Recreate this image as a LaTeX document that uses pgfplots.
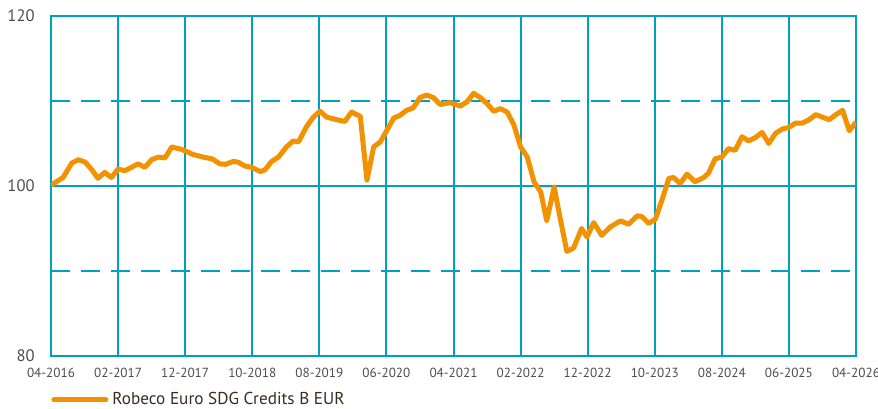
\documentclass[border=0pt]{standalone}
\usepackage{pgfplots}
\pgfplotsset{compat=1.18}
\usepackage{fontspec}
\setmainfont{PT Sans}
\definecolor{teal}{HTML}{00A0C0}
\definecolor{orng}{HTML}{F39200}
\definecolor{tickgray}{HTML}{4D4D4D}
\definecolor{legtext}{HTML}{3A2C1E}
\begin{document}
\begin{tikzpicture}
\useasboundingbox (-25.5pt,-26pt) rectangle (413.5pt,178pt);
\begin{axis}[
  at={(0,0)}, anchor=south west,
  scale only axis, width=402.5pt, height=170pt,
  xmin=0, xmax=120, ymin=80, ymax=120,
  xtick={0,10,...,120},
  xticklabels={04-2016,02-2017,12-2017,10-2018,08-2019,06-2020,04-2021,02-2022,12-2022,10-2023,08-2024,06-2025,04-2026},
  ytick={80,100,120},
  extra y ticks={90,110},
  extra y tick labels={},
  extra y tick style={grid=major, major grid style={teal, line width=1pt, dash pattern=on 9.5pt off 5.5pt}},
  xmajorgrids, ymajorgrids,
  major grid style={teal, line width=1pt},
  axis line style={teal, line width=1pt},
  tick style={draw=none},
  /pgf/number format/assume math mode=true,
  yticklabel style={font=\fontsize{8.3pt}{9pt}\selectfont, text=tickgray, anchor=east, inner sep=0pt, xshift=-8pt},
  xticklabel style={font=\fontsize{6.6pt}{7pt}\selectfont, text=tickgray, anchor=north, inner sep=0pt, yshift=-6pt},
  legend style={at={(0,-0.1294)}, anchor=west, draw=none, fill=none, inner sep=0pt,
    font=\fontsize{8.6pt}{9pt}\selectfont, text=legtext},
  legend image code/.code={\draw[orng, line width=2.5pt, line cap=round] (0.5pt,0pt) -- (26.5pt,0pt);},
]
\addplot[orng, line width=2.5pt, line join=round] coordinates {
(0,100.1) (1.8,101.0) (3.1,102.7) (4.1,103.1) (5.1,102.8) (6.1,101.9) (7,100.9) (8,101.6) (9,101.0) (10,102.0)
(11,101.8) (13,102.6) (14,102.2) (15,103.1) (16,103.4) (17,103.3) (18,104.6) (19.5,104.3) (21.2,103.7) (22.7,103.4)
(24,103.2) (25.2,102.6) (26,102.55) (27.2,102.9) (27.9,102.8) (28.9,102.35) (29.9,102.2) (31.2,101.7) (31.9,101.9) (32.9,102.9)
(33.9,103.4) (35.1,104.6) (36.1,105.3) (36.9,105.2) (38.1,107.0) (39.1,108.1) (40.1,108.8) (41.1,108.1) (42.6,107.8) (43.8,107.6)
(44.8,108.7) (46.1,108.2) (47.1,100.7) (48.1,104.6) (49.1,105.2) (50.1,106.6) (51.1,108.0) (52,108.3) (53,108.9) (54,109.2)
(55,110.4) (56,110.7) (57,110.4) (58,109.6) (59.5,109.8) (61,109.4) (62,109.9) (63,110.9) (64,110.4) (65,109.7)
(66,108.8) (67,109.1) (68,108.7) (69,107.2) (70,104.6) (71,103.4) (72,100.5) (73,99.3) (73.9,95.9) (75,99.9)
(75.9,96.2) (76.9,92.3) (77.9,92.7) (79.1,95.0) (79.9,94.0) (80.9,95.7) (82.1,94.2) (83.4,95.2) (84.9,95.9) (86.1,95.5)
(87.4,96.5) (88.1,96.4) (89.1,95.6) (90.1,96.1) (91.1,98.4) (92.1,100.9) (92.8,101.0) (93.8,100.3) (94.8,101.4) (96,100.5)
(97.3,101.0) (98,101.5) (99,103.2) (100,103.4) (101,104.4) (102,104.2) (103,105.8) (104,105.3) (105,105.7) (106,106.3)
(107,105.0) (108,106.2) (109,106.7) (110,106.9) (111,107.4) (112,107.4) (113,107.8) (114,108.4) (115,108.1) (116,107.8)
(117,108.4) (118,108.9) (119,106.5) (120,107.5)
};
\addlegendentry{Robeco Euro SDG Credits B EUR}
\end{axis}
\end{tikzpicture}
\end{document}
